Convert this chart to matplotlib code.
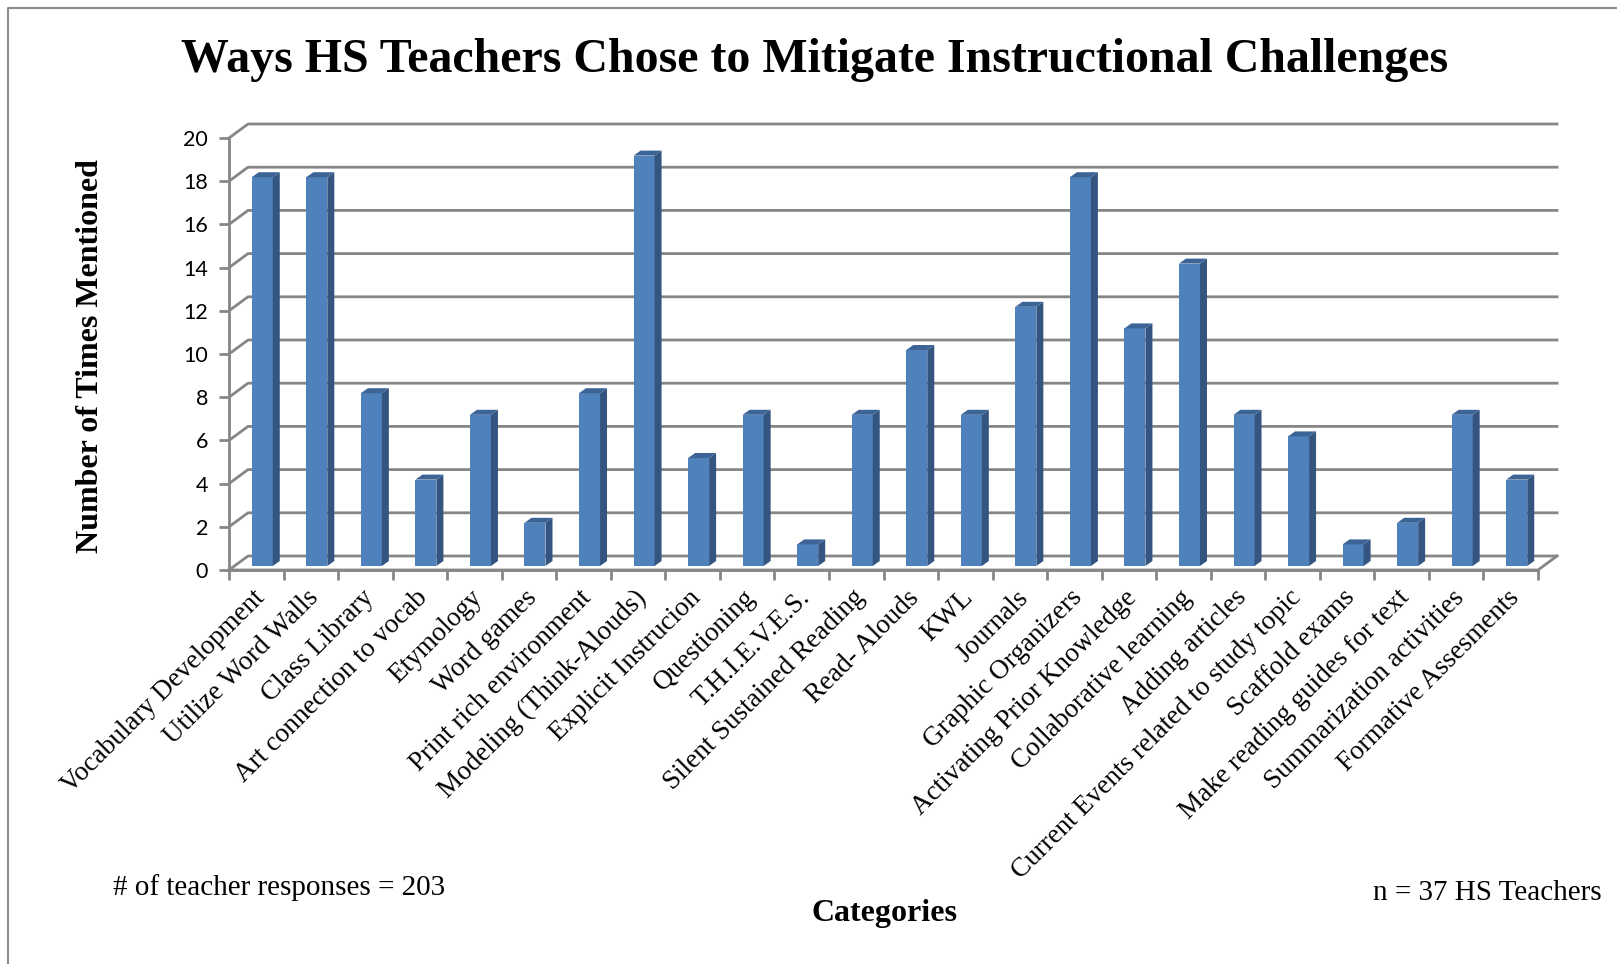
import matplotlib
matplotlib.use("Agg")
import matplotlib.pyplot as plt
from matplotlib.patches import Polygon
from matplotlib.lines import Line2D
import matplotlib.transforms as mtransforms

categories = ["Vocabulary Development", "Utilize Word Walls", "Class Library",
              "Art connection to vocab", "Etymology", "Word games",
              "Print rich environment", "Modeling (Think-Alouds)", "Explicit Instrucion",
              "Questioning", "T.H.I.E.V.E.S.", "Silent Sustained Reading",
              "Read- Alouds", "KWL", "Journals", "Graphic Organizers",
              "Activating Prior Knowledge", "Collaborative learning", "Adding articles",
              "Current Events related to study topic", "Scaffold exams",
              "Make reading guides for text", "Summarization activities",
              "Formative Assesments"]
values = [18, 18, 8, 4, 7, 2, 8, 19, 5, 7, 1, 7, 10, 7, 12, 18, 11, 14, 7, 6, 1, 2, 7, 4]
yticks = [0, 2, 4, 6, 8, 10, 12, 14, 16, 18, 20]

title = "Ways HS Teachers Chose to Mitigate Instructional Challenges"
ylabel = "Number of Times Mentioned"
xlabel = "Categories"
note_left = "# of teacher responses = 203"
note_right = "n = 37 HS Teachers"

W, H = 1617, 964
fig = plt.figure(figsize=(W / 100, H / 100), dpi=100)
ax = fig.add_axes([229 / W, (H - 570) / H, 1309 / W, 432 / H])
n = len(values)
ax.set_xlim(-0.5, n - 0.5)
ax.set_ylim(0, 20)

px_x = 1309 / n          # pixels per category
px_y = 432 / 20          # pixels per unit
# back wall offset
BDX, BDY = 19 / px_x, 14 / px_y
# bar placement
bar_w = 21 / px_x
bar_shift_x = 6 / px_x
bar_shift_y = 4 / px_y
side_dx, side_dy = 7 / px_x, 5 / px_y

grid_col = "#868686"
front_col = "#4F81BD"
side_col = "#34557F"
top_col = "#3C6496"

# gridlines on back wall + side wall
for yv in yticks:
    ax.add_line(Line2D([-0.5, -0.5 + BDX, n - 0.5 + BDX], [yv, yv + BDY, yv + BDY],
                       color=grid_col, lw=2.0, clip_on=False, zorder=1))
# floor front edge + right diagonal
ax.add_line(Line2D([-0.5, n - 0.5, n - 0.5 + BDX], [0, 0, BDY],
                   color=grid_col, lw=2.0, clip_on=False, zorder=1))

# bars
xs = [i + bar_shift_x for i in range(n)]
ax.bar(xs, values, width=bar_w, bottom=bar_shift_y, color=front_col,
       edgecolor="none", zorder=3)
for x, v in zip(xs, values):
    x0, x1 = x - bar_w / 2, x + bar_w / 2
    y0, y1 = bar_shift_y, bar_shift_y + v
    ax.add_patch(Polygon([(x1, y0), (x1 + side_dx, y0 + side_dy),
                          (x1 + side_dx, y1 + side_dy), (x1, y1)],
                         closed=True, facecolor=side_col, edgecolor="none", zorder=3))
    ax.add_patch(Polygon([(x0, y1), (x1, y1), (x1 + side_dx, y1 + side_dy),
                          (x0 + side_dx, y1 + side_dy)],
                         closed=True, facecolor=top_col, edgecolor="none", zorder=3))

# spines / ticks
for s in ["top", "right"]:
    ax.spines[s].set_visible(False)
for s in ["left", "bottom"]:
    ax.spines[s].set_color(grid_col)
    ax.spines[s].set_linewidth(2.0)
ax.set_xticks([i - 0.5 for i in range(n + 1)])
ax.set_xticklabels([])
ax.set_yticks(yticks)
ax.set_yticklabels([str(t) for t in yticks], fontfamily="Lato", fontsize=15.5)
ax.tick_params(axis="both", color=grid_col, width=2.0, length=7, direction="out")
ax.tick_params(axis="y", pad=8)
ax.patch.set_visible(False)

# category labels
trans = mtransforms.offset_copy(ax.transData, fig=fig, x=0, y=-24, units="dots")
for i, lab in enumerate(categories):
    ax.text(i + 0.08, 0, lab, transform=trans, rotation=45, rotation_mode="anchor",
            ha="right", va="center", fontfamily="Liberation Serif", fontsize=19.5)

# texts
fig.text(815 / W, 1 - 60 / H, title, ha="center", va="center",
         fontfamily="Liberation Serif", fontweight="bold", fontsize=34.5)
fig.text(90 / W, 1 - 356 / H, ylabel, ha="center", va="center", rotation=90,
         fontfamily="Liberation Serif", fontweight="bold", fontsize=23)
fig.text(884 / W, 1 - 914 / H, xlabel, ha="center", va="center",
         fontfamily="Liberation Serif", fontweight="bold", fontsize=23)
fig.text(113 / W, 1 - 888 / H, note_left, ha="left", va="center",
         fontfamily="Liberation Serif", fontsize=21)
fig.text(1602 / W, 1 - 893 / H, note_right, ha="right", va="center",
         fontfamily="Liberation Serif", fontsize=21)

# outer border (left and top)
fig.add_artist(Line2D([8 / W, 8 / W, 1.0], [0.0, 1 - 8 / H, 1 - 8 / H],
                      transform=fig.transFigure, color="#8C8C8C", lw=1.5))

fig.savefig("out.png", dpi=100)
